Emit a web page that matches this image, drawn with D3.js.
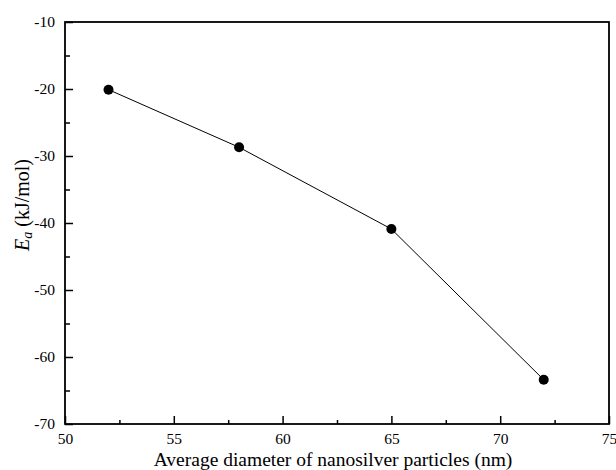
<!DOCTYPE html>
<html>
<head>
<meta charset="utf-8">
<script src="https://cdn.jsdelivr.net/npm/d3@7"></script>
<style>
  body { margin: 0; background: #fff; }
  svg text { font-family: "Liberation Serif", "Times New Roman", serif; fill: #000; }
</style>
</head>
<body>
<div id="chart"></div>
<script>
// data
var diameters = [52, 58, 65, 72];
var energies = [-20.1, -28.7, -40.9, -63.4];
var xTicks = [50, 55, 60, 65, 70, 75];
var yTicks = [-70, -60, -50, -40, -30, -20, -10];

var margin = { top: 22, right: 7, bottom: 46, left: 65 };
var width = 616 - margin.left - margin.right,
    height = 470 - margin.top - margin.bottom;

var svg = d3.select("#chart").append("svg")
    .attr("width", 616)
    .attr("height", 470);

var g = svg.append("g")
    .attr("transform", "translate(" + margin.left + "," + margin.top + ")");

var x = d3.scaleLinear().domain([50, 75]).range([0, width]);
var y = d3.scaleLinear().domain([-70, -10]).range([height, 0]);

// minor ticks at midpoints
var xMinor = d3.range(52.5, 75, 5);
var yMinor = d3.range(-65, -10, 10);

var plain = function(d) { return String(d); };  // hyphen minus, like the original

// bottom axis
var xAxis = g.append("g")
    .attr("transform", "translate(0," + height + ")")
    .call(d3.axisBottom(x).tickValues(xTicks).tickSize(-8).tickPadding(9).tickFormat(plain));
g.append("g")
    .attr("transform", "translate(0," + height + ")")
    .call(d3.axisBottom(x).tickValues(xMinor).tickSize(-4).tickFormat(""))
    .select(".domain").remove();

// left axis
var yAxis = g.append("g")
    .call(d3.axisLeft(y).tickValues(yTicks).tickSize(-8).tickPadding(10).tickFormat(plain));
g.append("g")
    .call(d3.axisLeft(y).tickValues(yMinor).tickSize(-5).tickFormat(""))
    .select(".domain").remove();

g.selectAll(".domain").remove();
g.selectAll(".tick line").attr("stroke", "#000").attr("stroke-width", 1.5);
g.selectAll(".tick text").style("font-size", "15.5px").attr("fill", "#000");

// frame
g.append("rect")
    .attr("x", 0).attr("y", 0)
    .attr("width", width).attr("height", height)
    .attr("fill", "none")
    .attr("stroke", "#000")
    .attr("stroke-width", 1.8);

// line
var pts = diameters.map(function(d, i) { return [d, energies[i]]; });
g.append("path")
    .datum(pts)
    .attr("fill", "none")
    .attr("stroke", "#000")
    .attr("stroke-width", 1)
    .attr("d", d3.line()
        .x(function(d) { return x(d[0]); })
        .y(function(d) { return y(d[1]); }));

g.selectAll(".pt")
    .data(pts)
    .enter()
    .append("circle")
    .attr("class", "pt")
    .attr("cx", function(d) { return x(d[0]); })
    .attr("cy", function(d) { return y(d[1]); })
    .attr("r", 5)
    .attr("fill", "#000");

// axis titles
svg.append("text")
    .attr("x", 333)
    .attr("y", 465.5)
    .attr("text-anchor", "middle")
    .style("font-size", "19.5px")
    .text("Average diameter of nanosilver particles (nm)");

var yt = svg.append("text")
    .attr("transform", "translate(29,205) rotate(-90)")
    .attr("text-anchor", "middle")
    .style("font-size", "20px");
yt.append("tspan").style("font-style", "italic").text("E");
yt.append("tspan").style("font-style", "italic").style("font-size", "14px").attr("dy", "3").text("a");
yt.append("tspan").attr("dy", "-3").text(" (kJ/mol)");
</script>
</body>
</html>
